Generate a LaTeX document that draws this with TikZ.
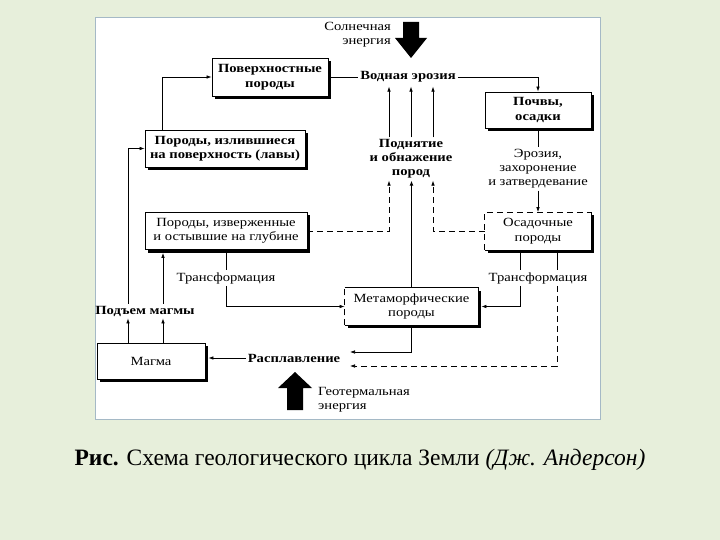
\documentclass[tikz,border=0pt]{standalone}
\usepackage{fontspec}
\setmainfont{Liberation Serif}
\newfontfamily\dfont{Liberation Serif}[FakeStretch=1.17]
\newfontfamily\capfont{Liberation Serif}
\usetikzlibrary{arrows.meta,shadows}
\definecolor{bg}{RGB}{231,239,219}
\definecolor{panelborder}{RGB}{165,185,198}
\begin{document}
\begin{tikzpicture}[x=1pt,y=-1pt,
  box/.style={draw=black, line width=0.8pt, fill=white, inner sep=0pt, align=center,
    font=\dfont\fontsize{12.5}{14.5}\selectfont,
    drop shadow={shadow xshift=3pt, shadow yshift=-3pt, fill=black, opacity=1}},
  bbox/.style={box, font=\dfont\bfseries\fontsize{12.5}{14.5}\selectfont},
  lbl/.style={inner sep=2pt, align=center, font=\dfont\fontsize{12.5}{14}\selectfont},
  blbl/.style={lbl, font=\dfont\bfseries\fontsize{12.5}{14}\selectfont},
  arr/.style={line width=0.7pt, -{Latex[length=5pt,width=3.6pt]}},
  ln/.style={line width=0.7pt},
  dsh/.style={dash pattern=on 6pt off 4pt}]
\useasboundingbox (0,0) rectangle (720,540);
\fill[bg] (0,0) rectangle (720,540);
\draw[panelborder, fill=white, line width=0.8pt] (95,17) rectangle (600,419);

% boxes
\node[bbox, minimum width=116pt, minimum height=38pt] (pov) at (270,77) {Поверхностные\\породы};
\node[bbox, minimum width=160pt, minimum height=37pt] (lava) at (225,148.5) {Породы, излившиеся\\на поверхность (лавы)};
\node[box, minimum width=162pt, minimum height=37pt] (deep) at (226,231) {Породы, изверженные\\и остывшие на глубине};
\node[box, minimum width=108pt, minimum height=36pt] (magma) at (151,361) {Магма};
\node[box, draw=none, minimum width=133pt, minimum height=37pt] (meta) at (411.5,306.5) {Метаморфические\\породы};
\draw[ln, dsh] (meta.south west) -- (meta.north west);
\draw[ln] (meta.north west) -- (meta.north east) -- (meta.south east) -- (meta.south west);
\node[bbox, minimum width=106pt, minimum height=36pt] (soil) at (538,110) {Почвы,\\осадки};
\node[box, draw=none, minimum width=106pt, minimum height=37pt] (sed) at (538,231) {Осадочные\\породы};
\draw[ln, dsh] (sed.south west) -- (sed.north west) -- (sed.north east);
\draw[ln] (sed.north east) -- (sed.south east) -- (sed.south west);

% labels
\node[lbl, anchor=east, align=right] (sun) at (393,35) {Солнечная\\энергия};
\node[blbl] (water) at (408,77) {Водная эрозия};
\node[blbl] (uplift) at (411,159) {Поднятие\\и обнажение\\пород};
\node[lbl] (erosion) at (538,169) {Эрозия,\\захоронение\\и затвердевание};
\node[lbl] (trL) at (226,278) {Трансформация};
\node[lbl] (trR) at (538,278) {Трансформация};
\node[blbl] (rise) at (145,311) {Подъем магмы};
\node[blbl] (melt) at (294,358) {Расплавление};
\node[lbl, anchor=west, align=left] (geo) at (316,400) {Геотермальная\\энергия};

% big arrows
\fill[black] (403,22) -- (419,22) -- (419,38) -- (427,38) -- (411,58) -- (395,38) -- (403,38) -- cycle;
\fill[black] (287,410) -- (303,410) -- (303,388) -- (312,388) -- (295,372) -- (278,388) -- (287,388) -- cycle;

% free ends
\coordinate (m1) at (350,352);
\coordinate (m2) at (350,366);

% connectors
\draw[arr] ([xshift=-63pt]lava.north) |- (pov.west);
\draw[ln] (pov.east) -- (water.west);
\draw[arr] (water.east) -| (soil.north);
\foreach \dx in {-22,0,22} {
  \draw[arr, shorten >=2pt] ([xshift=\dx pt]uplift.north) -- ([xshift=\dx pt]uplift.north |- water.south);
}
\draw[line width=1.3pt, -{Latex[length=5pt,width=4pt]}] (meta.north) -- (meta.north |- uplift.south);
\draw[arr, dsh] (deep.east) -| ([xshift=-22pt]uplift.south);
\draw[arr, dsh] (sed.west) -| ([xshift=22pt]uplift.south);
\draw[ln] (soil.south) -- (erosion.north);
\draw[arr] (erosion.south) -- (sed.north);
\draw[ln] (deep.south) -- (trL.north);
\draw[arr] (trL.south) |- (meta.west);
\draw[ln] ([xshift=-18pt]sed.south) -- ([xshift=-18pt]sed.south |- trR.north);
\draw[arr, shorten >=3pt] ([xshift=-18pt]trR.south) |- (meta.east);
\draw[ln] ([xshift=19pt]sed.south) -- ([xshift=19pt]sed.south |- trR.north);
\draw[arr, dsh] ([xshift=19pt]trR.south) |- (m2);
\draw[arr] (meta.south) |- (m1);
\draw[arr, shorten >=3pt] (melt.west) -- (melt.west -| magma.east);
\draw[arr] ([xshift=-23pt]magma.north) -- ([xshift=-23pt]magma.north |- rise.south);
\draw[arr] ([xshift=12pt]magma.north) -- ([xshift=12pt]magma.north |- rise.south);
\draw[arr] ([xshift=-17pt]rise.north) |- (lava.west);
\draw[arr, shorten >=3pt] ([xshift=18pt]rise.north) -- ([xshift=18pt]rise.north |- deep.south);

% caption
\node[font=\capfont\fontsize{23.5}{27}\selectfont, inner sep=0pt] (cap) at (360,460) {\textbf{Рис.} Схема геологического цикла Земли \textit{(Дж. Андерсон)}};
\end{tikzpicture}
\end{document}
